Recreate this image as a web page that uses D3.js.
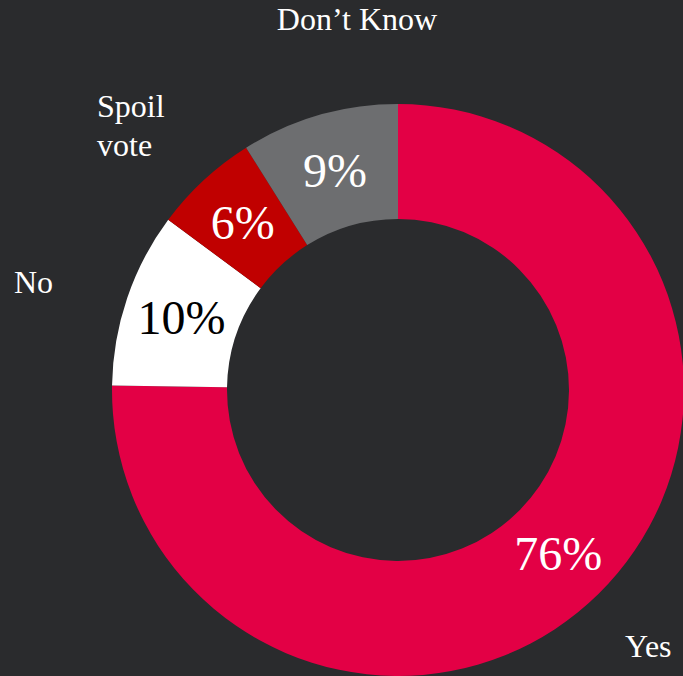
<!DOCTYPE html>
<html>
<head>
<meta charset="utf-8">
<script src="https://cdn.jsdelivr.net/npm/d3@7"></script>
<style>
  html, body { margin: 0; padding: 0; background: #2a2b2d; }
  svg { display: block; }
</style>
</head>
<body>
<svg id="chart" width="683" height="676"></svg>
<script>
// Survey answers, drawn clockwise from 12 o'clock
const categories = ["Yes", "No", "Spoil vote", "Don\u2019t Know"];
const shares = [76, 10, 6, 9];
const sliceColors = ["#e30045", "#ffffff", "#c00000", "#6d6e70"];
const valueColors = ["#ffffff", "#000000", "#ffffff", "#ffffff"];

// Where each category name sits (text anchor, in px) and how its lines break
const nameLines = [["Yes"], ["No"], ["Spoil", "vote"], ["Don\u2019t Know"]];
const namePlacement = [
  { x: 625, y: 657, anchor: "start" },
  { x: 14, y: 293, anchor: "start" },
  { x: 97, y: 117, anchor: "start" },
  { x: 357, y: 30, anchor: "middle" }
];

const width = 683, height = 676;
const cx = 398, cy = 390;
const outerR = 286, innerR = 171;
const font = "'Liberation Serif', 'Times New Roman', serif";

const svg = d3.select("#chart");
const g = svg.append("g").attr("transform", `translate(${cx},${cy})`);

const data = categories.map((c, i) => ({ name: c, value: shares[i], i }));
const pie = d3.pie().sort(null).value(d => d.value);
const arc = d3.arc().innerRadius(innerR).outerRadius(outerR);
const arcs = pie(data);

g.selectAll("path.slice")
  .data(arcs)
  .join("path")
  .attr("class", "slice")
  .attr("d", arc)
  .attr("fill", d => sliceColors[d.data.i]);

// Percentages at each slice centroid
g.selectAll("text.value")
  .data(arcs)
  .join("text")
  .attr("class", "value")
  .attr("x", d => arc.centroid(d)[0])
  .attr("y", d => arc.centroid(d)[1])
  .attr("dy", "0.35em")
  .attr("text-anchor", "middle")
  .attr("font-family", font)
  .attr("font-size", 48)
  .attr("fill", d => valueColors[d.data.i])
  .text(d => d.data.value + "%");

// Category names
const names = svg.selectAll("text.name")
  .data(data)
  .join("text")
  .attr("class", "name")
  .attr("x", d => namePlacement[d.i].x)
  .attr("y", d => namePlacement[d.i].y)
  .attr("text-anchor", d => namePlacement[d.i].anchor)
  .attr("font-family", font)
  .attr("font-size", 32)
  .attr("fill", "#ffffff");

names.each(function(d) {
  const t = d3.select(this);
  nameLines[d.i].forEach((line, k) => {
    t.append("tspan")
      .attr("x", namePlacement[d.i].x)
      .attr("dy", k === 0 ? 0 : 39)
      .text(line);
  });
});
</script>
</body>
</html>
